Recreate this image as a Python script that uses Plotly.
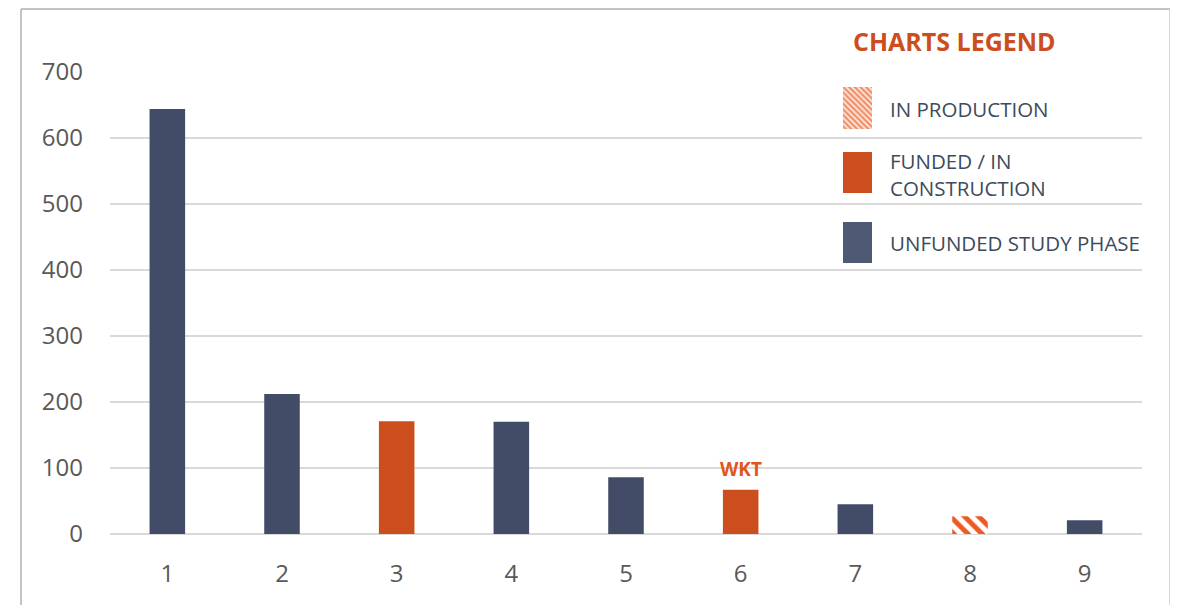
import plotly.graph_objects as go

categories = ["1", "2", "3", "4", "5", "6", "7", "8", "9"]
values = [644, 212, 171, 170, 86, 67, 45, 27, 21]
status = ["unfunded", "unfunded", "funded", "unfunded", "unfunded",
          "funded", "unfunded", "production", "unfunded"]
y_ticks = [0, 100, 200, 300, 400, 500, 600, 700]
legend_labels = ["IN PRODUCTION", "FUNDED / IN<br>CONSTRUCTION", "UNFUNDED STUDY PHASE"]
legend_keys = ["production", "funded", "unfunded"]
bar_label = ("6", "WKT")

NAVY = "#434c66"
NAVY_LEG = "#4e5a73"
ORANGE = "#cc4e1e"
TEXT = "#3d4b5b"
TICK = "#595959"
GRID = "#d9d9d9"

W, H = 1178, 605
OFF = 8  # page offset of the figure
# plot area in page pixels
PL, PR, PT, PB = 110, 1142, 72, 534
pw, ph = PR - PL, PB - PT
L, T = PL - OFF, PT - OFF
R, B = W - pw - L, H - ph - T

def px_x(p):
    return (p - PL) / pw

def px_y(p):
    return (PB - p) / ph

fig = go.Figure()

for key in ["unfunded", "funded", "production"]:
    xs = [c for c, s in zip(categories, status) if s == key]
    ys = [v for v, s in zip(values, status) if s == key]
    if key == "production":
        marker = dict(color="white", line=dict(width=0),
                      pattern=dict(shape="\\", fgcolor="#ee5a22", bgcolor="white",
                                   fgopacity=1, size=10, solidity=0.5))
    else:
        marker = dict(color=NAVY if key == "unfunded" else ORANGE, line=dict(width=0))
    fig.add_trace(go.Bar(x=xs, y=ys, marker=marker, width=0.31, showlegend=False,
                         hoverinfo="x+y"))

# custom legend swatches on an overlay axis in page-pixel coordinates
sw_top = [87, 152, 222]
sw_h = [42, 41, 41]
for key, top, h in zip(legend_keys, sw_top, sw_h):
    if key == "production":
        marker = dict(color="#fbe3d8", line=dict(width=0),
                      pattern=dict(shape="\\", fgcolor="#f08a60", bgcolor="#fbe3d8",
                                   fgopacity=1, size=4, solidity=0.5))
    else:
        marker = dict(color=NAVY_LEG if key == "unfunded" else ORANGE, line=dict(width=0))
    fig.add_trace(go.Bar(x=[857.5], y=[h], base=[top], width=29, marker=marker,
                         xaxis="x2", yaxis="y2", showlegend=False, hoverinfo="skip"))

annotations = [
    dict(x=categories.index(bar_label[0]), y=values[categories.index(bar_label[0])],
         text="<b>" + bar_label[1] + "</b>",
         showarrow=False, yanchor="bottom", yshift=6,
         font=dict(family="Open Sans", size=19, color="#e0561c")),
    dict(xref="paper", yref="paper", x=px_x(954), y=px_y(41), text="<b>CHARTS LEGEND</b>",
         showarrow=False, xanchor="center", yanchor="middle",
         font=dict(family="Open Sans", size=25, color=ORANGE)),
]
text_y = [109, 175, 243]
for lab, ty in zip(legend_labels, text_y):
    annotations.append(dict(xref="paper", yref="paper", x=px_x(888), y=px_y(ty), text=lab,
                            showarrow=False, xanchor="left", yanchor="middle", align="left",
                            font=dict(family="Open Sans", size=20.5, color=TEXT)))

shapes = [
    dict(type="line", xref="paper", yref="paper", x0=px_x(21), x1=px_x(21),
         y0=px_y(9), y1=px_y(620), line=dict(color="#b0b0b0", width=1.5)),
    dict(type="line", xref="paper", yref="paper", x0=px_x(21), x1=px_x(1170),
         y0=px_y(9), y1=px_y(9), line=dict(color="#b0b0b0", width=1.5)),
    dict(type="line", xref="paper", yref="paper", x0=px_x(1170), x1=px_x(1170),
         y0=px_y(9), y1=px_y(620), line=dict(color="#c8c8c8", width=1.5)),
]

fig.update_layout(
    width=W, height=H,
    margin=dict(l=L, r=R, t=T, b=B),
    paper_bgcolor="white", plot_bgcolor="white",
    barmode="overlay",
    xaxis=dict(categoryorder="array", categoryarray=categories, range=[-0.5, 8.5],
               showgrid=False, showline=False, ticks="", zeroline=False,
               tickfont=dict(family="Open Sans", size=24, color=TICK), ticklabelstandoff=23),
    yaxis=dict(range=[0, 700], tickvals=y_ticks, showgrid=True, gridcolor=GRID, gridwidth=2,
               zeroline=True, zerolinecolor=GRID, zerolinewidth=2, showline=False,
               ticks="", tickfont=dict(family="Open Sans", size=24, color=TICK),
               ticklabelstandoff=26),
    xaxis2=dict(range=[PL, PR], visible=False, overlaying="x", anchor="y2", fixedrange=True),
    yaxis2=dict(range=[PB, PT], visible=False, overlaying="y", anchor="x2", fixedrange=True),
    annotations=annotations,
    shapes=shapes,
)

fig.write_html("out.html")
